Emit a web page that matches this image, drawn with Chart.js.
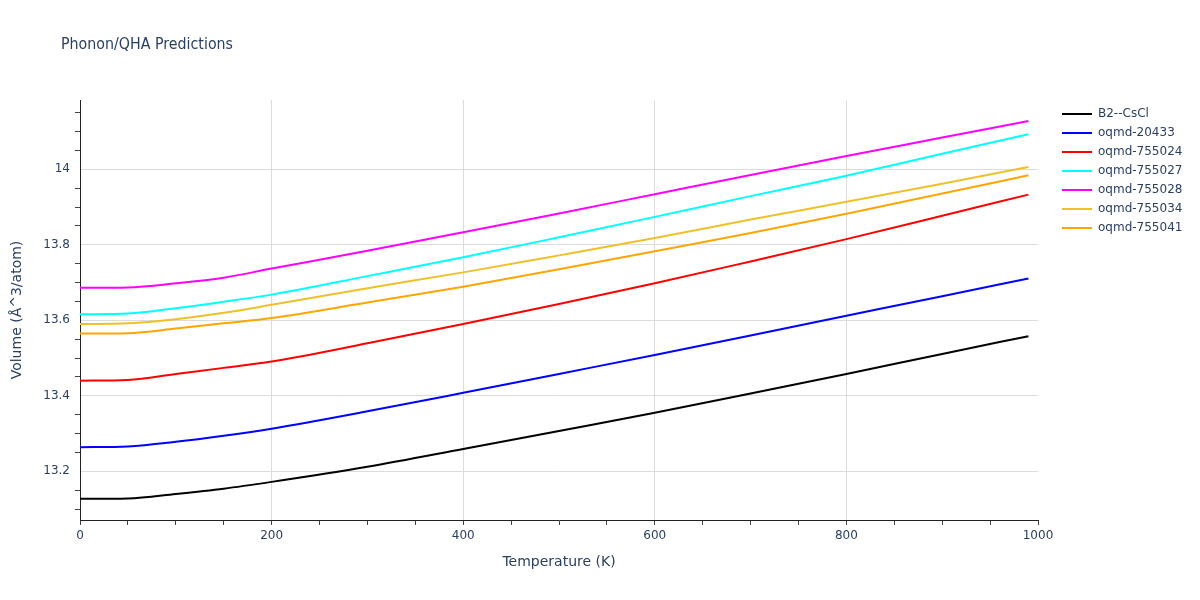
<!DOCTYPE html>
<html>
<head>
<meta charset="utf-8">
<script src="https://cdn.jsdelivr.net/npm/chart.js@4"></script>
<style>
  body { margin: 0; background: #fff; }
  #wrap { width: 1200px; height: 600px; }
</style>
</head>
<body>
<div id="wrap"><canvas id="chart"></canvas></div>
<script>
const temps = [0, 50, 100, 150, 200, 300, 400, 500, 600, 700, 800, 900, 990];

const b2CsCl   = [13.127, 13.128, 13.140, 13.154, 13.172, 13.212, 13.259, 13.307, 13.355, 13.406, 13.458, 13.511, 13.558];
const oq20433  = [13.264, 13.266, 13.278, 13.294, 13.313, 13.359, 13.408, 13.458, 13.508, 13.560, 13.612, 13.664, 13.711];
const oq755024 = [13.440, 13.442, 13.458, 13.474, 13.491, 13.539, 13.590, 13.643, 13.698, 13.756, 13.815, 13.877, 13.933];
const oq755027 = [13.616, 13.618, 13.632, 13.649, 13.668, 13.717, 13.767, 13.820, 13.874, 13.929, 13.983, 14.041, 14.093];
const oq755028 = [13.686, 13.687, 13.698, 13.713, 13.737, 13.784, 13.833, 13.883, 13.934, 13.985, 14.035, 14.084, 14.128];
const oq755034 = [13.590, 13.592, 13.603, 13.620, 13.641, 13.685, 13.727, 13.772, 13.818, 13.867, 13.914, 13.962, 14.006];
const oq755041 = [13.565, 13.566, 13.578, 13.592, 13.606, 13.647, 13.689, 13.735, 13.783, 13.831, 13.882, 13.936, 13.984];

const names  = ["B2--CsCl", "oqmd-20433", "oqmd-755024", "oqmd-755027", "oqmd-755028", "oqmd-755034", "oqmd-755041"];
const series = [b2CsCl, oq20433, oq755024, oq755027, oq755028, oq755034, oq755041];
const colors = ["#000000", "#0000ff", "#ff0000", "#00ffff", "#ff00ff", "#f0c02a", "#ffa500"];

const FONT = "'DejaVu Sans', Verdana, sans-serif";
const TEXT = "#2a3f5f";

function isMajor(v, step) {
  return Math.abs(v / step - Math.round(v / step)) < 1e-6;
}

// title + legend drawn by hand to sit where the reference has them
const extras = {
  id: "extras",
  afterDraw(chart) {
    const ctx = chart.ctx;
    ctx.save();
    ctx.fillStyle = TEXT;
    ctx.font = "15px " + FONT;
    ctx.textBaseline = "middle";
    ctx.textAlign = "left";
    ctx.fillText("Phonon/QHA Predictions", 61, 45, 172);

    ctx.font = "12px " + FONT;
    chart.data.datasets.forEach((ds, i) => {
      const y = 114 + i * 19;
      ctx.strokeStyle = ds.borderColor;
      ctx.lineWidth = 2;
      ctx.beginPath();
      ctx.moveTo(1062, y);
      ctx.lineTo(1092, y);
      ctx.stroke();
      ctx.fillStyle = TEXT;
      ctx.fillText(ds.label, 1098, y);
    });
    ctx.restore();
  }
};

new Chart(document.getElementById("chart"), {
  type: "line",
  data: {
    datasets: names.map((n, i) => ({
      label: n,
      data: temps.map((t, j) => ({ x: t, y: series[i][j] })),
      borderColor: colors[i],
      backgroundColor: colors[i],
      borderWidth: 2,
      pointRadius: 0,
      cubicInterpolationMode: "monotone"
    }))
  },
  options: {
    responsive: true,
    maintainAspectRatio: false,
    animation: false,
    layout: { padding: { left: 0, right: 162, top: 100, bottom: 0 } },
    plugins: {
      legend: { display: false },
      tooltip: { enabled: false }
    },
    scales: {
      x: {
        type: "linear",
        min: 0,
        max: 1000,
        afterFit(scale) { scale.height = 80; },
        ticks: {
          stepSize: 50,
          includeBounds: false,
          autoSkip: false,
          maxRotation: 0,
          padding: 4,
          color: TEXT,
          font: { family: FONT, size: 12 },
          callback: v => isMajor(v, 200) ? String(v) : ""
        },
        grid: {
          tickLength: 5,
          color: c => (isMajor(c.tick.value, 200) && c.tick.value > 0 && c.tick.value < 1000) ? "#dcdcdc" : "rgba(0,0,0,0)",
          tickColor: "#444"
        },
        border: { color: "#222", width: 1 },
        title: {
          display: true,
          text: "Temperature (K)",
          color: TEXT,
          font: { family: FONT, size: 14 },
          padding: { top: 0, bottom: 29 }
        }
      },
      y: {
        type: "linear",
        min: 13.071,
        max: 14.1836,
        afterFit(scale) { scale.width = 80; },
        ticks: {
          stepSize: 0.05,
          includeBounds: false,
          autoSkip: false,
          padding: 5,
          color: TEXT,
          font: { family: FONT, size: 12 },
          callback: v => isMajor(v, 0.2) ? String(Math.round(v * 10) / 10) : ""
        },
        grid: {
          tickLength: 5,
          color: c => isMajor(c.tick.value, 0.2) ? "#dcdcdc" : "rgba(0,0,0,0)",
          tickColor: c => isMajor(c.tick.value, 0.2) ? "rgba(0,0,0,0)" : "#444"
        },
        border: { color: "#222", width: 1 },
        title: {
          display: true,
          text: "Volume (Å^3/atom)",
          color: TEXT,
          font: { family: FONT, size: 14 },
          padding: { top: 9, bottom: 0 }
        }
      }
    }
  },
  plugins: [extras]
});
</script>
</body>
</html>
